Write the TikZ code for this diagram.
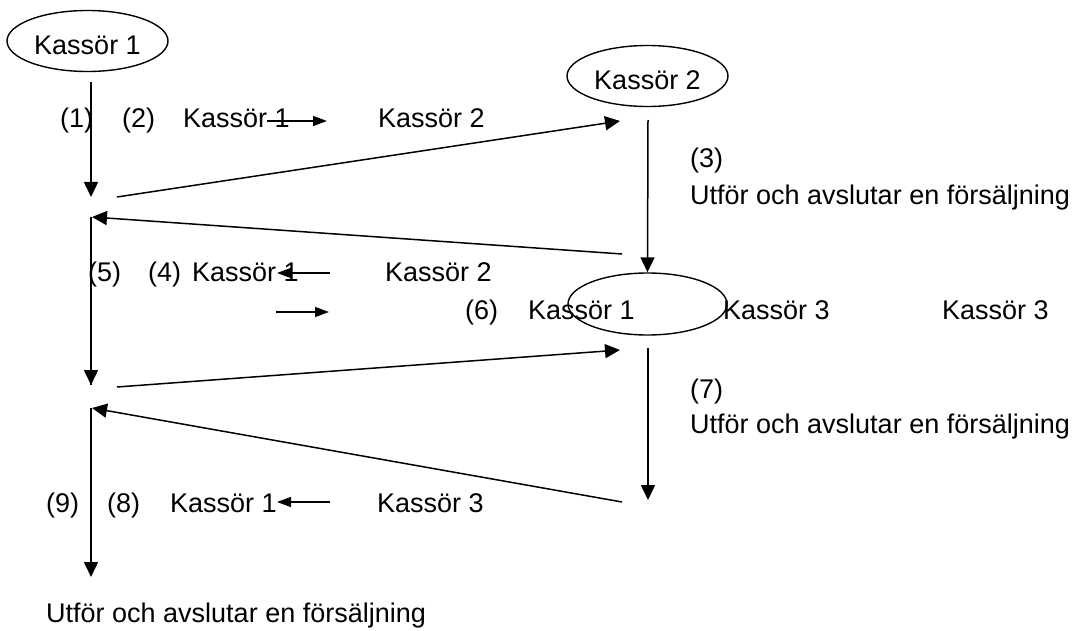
\documentclass[tikz,border=0pt]{standalone}
\usepackage{fontspec}
\setmainfont{Liberation Sans}
\usetikzlibrary{arrows.meta,shapes.geometric}
\tikzset{
  txt/.style={anchor=base west, inner sep=0pt, font=\fontsize{27pt}{32pt}\selectfont},
  oval/.style={draw, line width=1.4pt, ellipse, inner sep=0pt, minimum width=161pt, minimum height=61pt,
    text height=31pt, text depth=3pt, font=\fontsize{27pt}{32pt}\selectfont},
  flow/.style={line width=1.5pt, -{Triangle[length=15pt,width=14pt]}},
  line/.style={line width=1.5pt},
  small/.style={line width=1.5pt, -{Triangle[length=14pt,width=10pt]}}
}
\begin{document}
\begin{tikzpicture}[x=1pt,y=-1pt]
\useasboundingbox (0,0) rectangle (1082,631);
% ovals
\node[oval] (k1) at (87.5,41) {Kassör 1};
\node[oval] (k2) at (647.5,76) {Kassör 2};
\node[oval, minimum width=159pt, minimum height=62pt] (k1m) at (647.5,304) {};
% texts row 1
\node[txt] (n1) at (60,128) {(1)};
\node[txt] (n2) at (122,128) {(2)};
\node[txt] (r1a) at (183,128) {Kassör 1};
\node[txt] (r1b) at (378,128) {Kassör 2};
\node[txt] (n3) at (690,168) {(3)};
\node[txt] (u3) at (690,205) {Utför och avslutar en försäljning};
% row 2
\node[txt] (n5) at (88,282) {(5)};
\node[txt] (n4) at (148,282) {(4)};
\node[txt] (r2a) at (192,282) {Kassör 1};
\node[txt] (r2b) at (385,282) {Kassör 2};
% row 3
\node[txt] (n6) at (465,319) {(6)};
\node[txt] (r3a) at (528,319) {Kassör 1};
\node[txt] (r3b) at (723,319) {Kassör 3};
\node[txt] (r3c) at (942,319) {Kassör 3};
\node[txt] (n7) at (690,398) {(7)};
\node[txt] (u7) at (690,433) {Utför och avslutar en försäljning};
% row 4
\node[txt] (n9) at (46,512) {(9)};
\node[txt] (n8) at (107,512) {(8)};
\node[txt] (r4a) at (170,512) {Kassör 1};
\node[txt] (r4b) at (377,512) {Kassör 3};
\node[txt] (u9) at (46,622) {Utför och avslutar en försäljning};
% coordinates for arrow ends
\coordinate (p1s) at (91,82);
\coordinate (p1e) at (91,197);
\coordinate (p2s) at (117,197);
\coordinate (p2e) at (620,121);
\coordinate (p3s) at (648,120);
\coordinate (p4s) at (622,254);
\coordinate (p4e) at (92,217);
\coordinate (p5s) at (91,217);
\coordinate (p5e) at (91,385);
\coordinate (p6s) at (117,387);
\coordinate (p6e) at (620,350);
\coordinate (p7s) at (648,348);
\coordinate (p7e) at (648,500);
\coordinate (p8s) at (622,502);
\coordinate (p8e) at (92,408);
\coordinate (p9s) at (91,408);
\coordinate (p9e) at (91,577);
% main arrows
\draw[flow] (p1s) -- (p1e);
\draw[flow] (p2s) -- (p2e);
\draw[flow] (p3s) -- (k1m.north);
\draw[flow] (p4s) -- (p4e);
\draw[line] (p5s) -- (p5e);
\draw[flow] (p5s) -- (p5e);
\draw[flow] (p6s) -- (p6e);
\draw[flow] (p7s) -- (p7e);
\draw[flow] (p8s) -- (p8e);
\draw[flow] (p9s) -- (p9e);
% small arrows in text
\coordinate (s1s) at (267,121);
\coordinate (s1e) at (327,121);
\coordinate (s2s) at (330,273);
\coordinate (s2e) at (277,273);
\coordinate (s3s) at (276,312);
\coordinate (s3e) at (329,312);
\coordinate (s4s) at (330,502);
\coordinate (s4e) at (277,502);
\draw[small] (s1s) -- (s1e);
\draw[small] (s2s) -- (s2e);
\draw[small] (s3s) -- (s3e);
\draw[small] (s4s) -- (s4e);
\end{tikzpicture}
\end{document}
